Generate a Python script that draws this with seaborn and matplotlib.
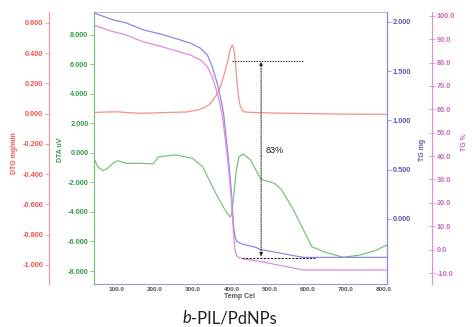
import matplotlib
matplotlib.use("Agg")
import matplotlib.pyplot as plt
import seaborn as sns
import numpy as np
import pandas as pd

# ---------------- data ----------------
tg_mg_T = [40, 90, 124, 168, 211, 255, 293, 319, 337, 350, 363, 373, 380, 392, 400, 406, 411, 415, 428, 463, 476, 589, 807]
tg_mg_v = [2.09, 2.02, 1.99, 1.92, 1.88, 1.83, 1.784, 1.733, 1.665, 1.546, 1.377, 1.208, 1.06, 0.62, 0.28, -0.08, -0.20, -0.23, -0.254, -0.287, -0.31, -0.39, -0.39]

tg_pct_T = [40, 81, 124, 168, 211, 255, 293, 319, 337, 350, 361, 370, 378, 390, 400, 406, 410, 414, 419, 437, 463, 476, 589, 807]
tg_pct_v = [96.0, 93.6, 91.8, 88.9, 87.1, 85.0, 83.2, 81.1, 78.2, 73.9, 68.1, 62.4, 55.4, 39.0, 22.0, 6.0, -0.5, -2.5, -3.4, -4.1, -4.7, -5.1, -8.7, -8.7]

dtg_T = [40, 70, 100, 130, 160, 200, 240, 280, 310, 330, 345, 360, 371, 380, 389, 395, 398, 402, 405, 408, 412, 415, 420, 424, 432, 450, 500, 600, 700, 807]
dtg_v = [0.007, 0.010, 0.012, 0.006, 0.002, 0.004, 0.008, 0.010, 0.022, 0.040, 0.066, 0.12, 0.176, 0.25, 0.331, 0.40, 0.43, 0.452, 0.44, 0.397, 0.30, 0.199, 0.09, 0.044, 0.012, 0.008, 0.004, 0.0, -0.004, -0.005]

dta_T = [40, 50, 63, 76, 90, 103, 124, 168, 194, 200, 207, 230, 255, 298, 325, 346, 364, 381, 397, 400, 403, 407, 413, 420, 428, 432, 450, 476, 490, 502, 515, 532, 563, 589, 611, 641, 693, 737, 781, 807]
dta_v = [-0.37, -0.94, -1.21, -1.05, -0.70, -0.53, -0.71, -0.71, -0.75, -0.60, -0.30, -0.20, -0.14, -0.37, -0.94, -2.06, -2.97, -3.75, -4.36, -4.20, -3.60, -2.74, -1.16, -0.26, -0.14, -0.08, -0.48, -1.72, -1.90, -1.95, -2.10, -2.51, -3.87, -5.22, -6.35, -6.69, -7.07, -6.92, -6.58, -6.24]

x_ticks = [100, 200, 300, 400, 500, 600, 700, 800]
dtg_ticks = [0.6, 0.4, 0.2, 0.0, -0.2, -0.4, -0.6, -0.8, -1.0]
dta_ticks = [8, 6, 4, 2, 0, -2, -4, -6, -8]
tgmg_ticks = [2.0, 1.5, 1.0, 0.5, 0.0]
tgpct_ticks = [100, 90, 80, 70, 60, 50, 40, 30, 20, 10, 0, -10]

loss_label = "83%"
title_italic = "b"
title_rest = "-PIL/PdNPs"

# ---------------- styling ----------------
sns.set_style("white")
plt.rcParams['font.family'] = ['Liberation Sans', 'DejaVu Sans']

RED_L, RED_T = "#f49090", "#ee5555"
GRN_L, GRN_T = "#7cc07c", "#3a9a4a"
BLU_L, BLU_T = "#8a8ae0", "#5a5aa8"
PUR_L, PUR_T = "#e08ae0", "#c766bb"

W, H = 475, 327
fig = plt.figure(figsize=(W / 100, H / 100), dpi=100)
L, R, T_, B = 94, 387, 12, 284
ax = fig.add_axes([L / W, 1 - B / H, (R - L) / W, (B - T_) / H])
ax_red = ax.twinx()
ax_blu = ax.twinx()
ax_pur = ax.twinx()

xlim = (40, 808)

# curves
sns.lineplot(x=dta_T, y=dta_v, ax=ax, color=GRN_L, linewidth=0.9, legend=False)
sns.lineplot(x=dtg_T, y=dtg_v, ax=ax_red, color=RED_L, linewidth=0.9, legend=False)
sns.lineplot(x=tg_mg_T, y=tg_mg_v, ax=ax_blu, color=BLU_L, linewidth=0.9, legend=False)
sns.lineplot(x=tg_pct_T, y=tg_pct_v, ax=ax_pur, color=PUR_L, linewidth=0.9, legend=False)

for a in (ax, ax_red, ax_blu, ax_pur):
    a.set_xlim(*xlim)
    a.set_xlabel("")
    a.set_ylabel("")

ax.set_ylim(-8.88, 9.54)
ax_red.set_ylim(-1.126, 0.671)
ax_blu.set_ylim(-0.66, 2.10)
ax_pur.set_ylim(-14.7, 101.6)

tick_fs = 5.3
# x axis
ax.set_xticks(x_ticks)
ax.set_xticklabels([f"{v:.1f}" for v in x_ticks], fontsize=4.6, fontweight="bold", color="#555555")
ax.tick_params(axis="x", direction="in", length=3, width=0.6, color="#8890a8", pad=2)

# green (main) left
ax.set_yticks(dta_ticks)
ax.set_yticklabels([f"{v:.3f}" for v in dta_ticks], fontsize=tick_fs, fontweight="bold", color=GRN_T)
ax.tick_params(axis="y", direction="out", length=3, width=0.6, color=GRN_L, pad=1)

# red
ax_red.spines["left"].set_visible(True)
ax_red.spines["left"].set_position(("axes", -0.154))
ax_red.spines["left"].set_color(RED_L)
ax_red.spines["left"].set_linewidth(0.8)
ax_red.spines["right"].set_visible(False)
ax_red.spines["top"].set_visible(False)
ax_red.spines["bottom"].set_visible(False)
ax_red.yaxis.set_ticks_position("left")
ax_red.set_yticks(dtg_ticks)
ax_red.set_yticklabels([f"{v:.3f}" for v in dtg_ticks], fontsize=tick_fs, fontweight="bold", color=RED_T)
ax_red.tick_params(axis="y", direction="out", length=3, width=0.6, color=RED_L, pad=1)

# blue
for s in ("left", "top", "bottom"):
    ax_blu.spines[s].set_visible(False)
ax_blu.spines["right"].set_color(BLU_L)
ax_blu.spines["right"].set_linewidth(0.9)
ax_blu.set_yticks(tgmg_ticks)
ax_blu.set_yticklabels([f"{v:.3f}" for v in tgmg_ticks], fontsize=tick_fs, fontweight="bold", color=BLU_T)
ax_blu.tick_params(axis="y", direction="out", length=3, width=0.6, color=BLU_L, pad=1)

# purple
for s in ("left", "top", "bottom"):
    ax_pur.spines[s].set_visible(False)
ax_pur.spines["right"].set_position(("axes", 1.154))
ax_pur.spines["right"].set_color(PUR_L)
ax_pur.spines["right"].set_linewidth(0.8)
ax_pur.set_yticks(tgpct_ticks)
ax_pur.set_yticklabels([f"{v:.1f}" for v in tgpct_ticks], fontsize=tick_fs, fontweight="bold", color=PUR_T)
ax_pur.tick_params(axis="y", direction="inout", length=5, width=0.6, color=PUR_L, pad=1)

# main frame
ax.spines["left"].set_color(GRN_L)
ax.spines["left"].set_linewidth(0.9)
ax.spines["top"].set_color("#b8bcd4")
ax.spines["top"].set_linewidth(0.8)
ax.spines["bottom"].set_color("#9aa0bc")
ax.spines["bottom"].set_linewidth(0.8)
ax.spines["right"].set_visible(False)

# annotations (in TG % coordinates)
ls_dot = (0, (1.2, 1.2))
ax_pur.plot([402, 589], [80.8, 80.8], color="#222222", linewidth=0.8, linestyle=ls_dot)
ax_pur.plot([429, 620], [-3.4, -3.4], color="#222222", linewidth=0.8, linestyle=(0, (2, 1.2)))
ax_pur.annotate("", xy=(478, 80.3), xytext=(478, 40),
                arrowprops=dict(arrowstyle="-|>", color="#222222", lw=0.7, linestyle=ls_dot,
                                mutation_scale=5, shrinkA=0, shrinkB=0))
ax_pur.annotate("", xy=(478, -2.9), xytext=(478, 40),
                arrowprops=dict(arrowstyle="-|>", color="#222222", lw=0.7, linestyle=ls_dot,
                                mutation_scale=5, shrinkA=0, shrinkB=0))
ax_pur.text(491, 42.2, loss_label, fontsize=6.5, color="#222222", ha="left", va="center")

# axis labels
def ftxt(x, y, s, **kw):
    fig.text(x / W, 1 - y / H, s, **kw)

ftxt(15, 153, "DTG mg/min", rotation=90, fontsize=5, fontweight="bold", color=RED_T, ha="center", va="center")
ftxt(60, 150, "DTA uV", rotation=90, fontsize=5, fontweight="bold", color=GRN_T, ha="center", va="center")
ftxt(422, 150, "TG mg", rotation=90, fontsize=5, fontweight="bold", color=BLU_T, ha="center", va="center")
ftxt(465, 142, "TG %", rotation=90, fontsize=5, fontweight="bold", color=PUR_T, ha="center", va="center")
ftxt(240, 297, "Temp Cel", fontsize=5, fontweight="bold", color="#555555", ha="center", va="center")

ftxt(191.5, 318, title_italic, fontsize=12, family=["Lato", "DejaVu Sans"], style="italic", color="#222222", ha="right", va="center")
ftxt(191.5, 318, title_rest, fontsize=12, family=["Lato", "DejaVu Sans"], color="#222222", ha="left", va="center")

fig.savefig("out.png", dpi=100)
